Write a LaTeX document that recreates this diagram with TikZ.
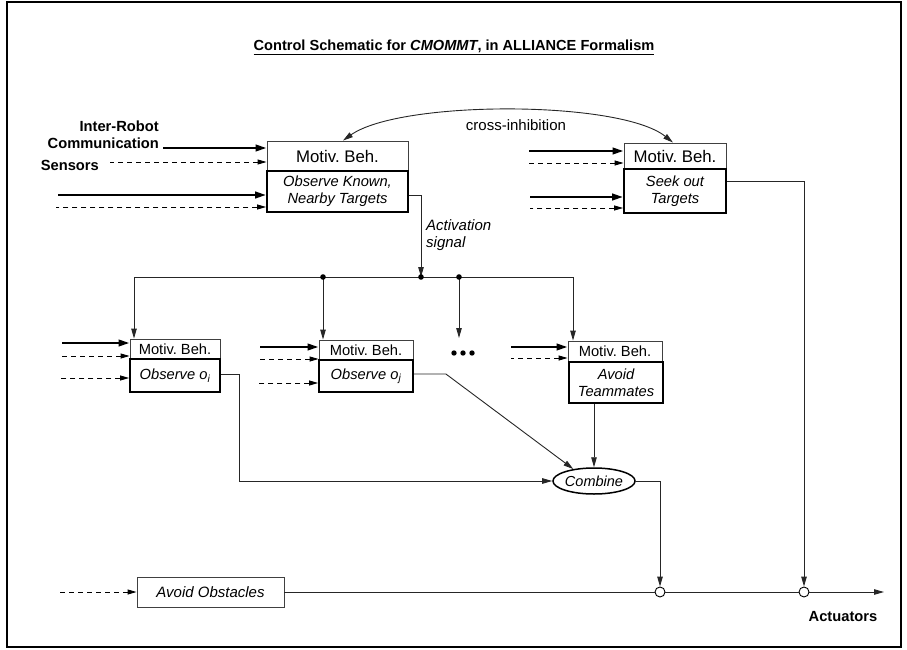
\documentclass[tikz,border=0pt]{standalone}
\usepackage{fontspec}
\setmainfont{Liberation Sans}
\usetikzlibrary{arrows.meta}
\usetikzlibrary{positioning}
\usetikzlibrary{shapes.geometric}
\frenchspacing

\tikzset{
  txt/.style={inner sep=0pt, font=\fontsize{14.7}{17}\selectfont},
  motiv/.style={draw=black!75, line width=0.9pt, inner sep=0pt, font=\fontsize{14.7}{17}\selectfont},
  beh/.style={draw, line width=1.8pt, inner sep=0pt, align=center, font=\fontsize{14.7}{17}\selectfont\itshape},
  wire/.style={line width=0.9pt, draw=black!85},
  tip/.style={-{Triangle[length=10pt,width=5.5pt]}},
  feedthick/.style={{Triangle[length=11pt,width=6.5pt]}-, line width=2.4pt},
  feeddash/.style={{Triangle[length=9pt,width=5pt]}-, line width=0.9pt, dash pattern=on 5pt off 4pt},
  junc/.style={circle, draw, fill=white, line width=0.9pt, minimum size=10pt, inner sep=0pt},
}

\begin{document}
\begin{tikzpicture}[x=1pt, y=-1pt]
      \useasboundingbox (0,0) rectangle (907,650);
      \draw[line width=1.3pt] (7,2) rectangle (901,647);

      \node[txt, font=\fontsize{14.6}{18}\selectfont\bfseries] (title) at (454,47)
        {\underline{Control Schematic for \textit{CMOMMT}, in ALLIANCE Formalism}};

      % top row of behaviours
      \node[motiv, minimum width=141pt, minimum height=30pt, font=\fontsize{16.8}{19}\selectfont] (tlM) at (337.5,156) {Motiv. Beh.};
      \node[beh, minimum width=141pt, minimum height=41pt] (tlB) at (337.5,191.5) {Observe Known,\\Nearby Targets};
      \node[motiv, minimum width=102pt, minimum height=26pt, font=\fontsize{16.8}{19}\selectfont] (trM) at (675,156) {Motiv. Beh.};
      \node[beh, minimum width=102pt, minimum height=44pt] (trB) at (675,191) {Seek out\\Targets};

      \node[txt, font=\fontsize{14.7}{17}\selectfont\bfseries, align=right, anchor=east] (irc) at (159,135) {Inter-Robot\\Communication};
      \node[txt, font=\fontsize{14.7}{17}\selectfont\bfseries, anchor=east] (sens) at (99,165) {Sensors};
      \node[txt, font=\fontsize{15}{17}\selectfont] (cross) at (516,125) {cross-inhibition};
      \node[txt, font=\fontsize{15}{16.5}\selectfont\itshape, align=left, anchor=west] (act) at (426,235) {Activation\\signal};

      % second row of behaviours
      \node[motiv, minimum width=90pt, minimum height=20pt] (oiM) at (175,349) {Motiv. Beh.};
      \node[beh, minimum width=90pt, minimum height=33pt] (oiB) at (175,375.5) {Observe o\textsubscript{i}};
      \node[motiv, minimum width=94pt, minimum height=20pt] (ojM) at (366,350) {Motiv. Beh.};
      \node[beh, minimum width=94pt, minimum height=32pt] (ojB) at (366,376) {Observe o\textsubscript{j}};
      \node[motiv, minimum width=94pt, minimum height=20pt] (atM) at (615,351) {Motiv. Beh.};
      \node[beh, minimum width=94pt, minimum height=41pt] (atB) at (616,382.5) {Avoid\\Teammates};

      \node[ellipse, draw, line width=1.5pt, minimum width=82pt, minimum height=26pt, inner sep=0pt,
            font=\fontsize{14.5}{17}\selectfont\itshape] (cmb) at (594,481) {Combine};

      % bottom row
      \node[motiv, minimum width=147pt, minimum height=30pt, font=\fontsize{15}{17}\selectfont\itshape] (aoB) at (210.5,592) {Avoid Obstacles};
      \node[junc] (c1) at (660,592) {};
      \node[junc] (c2) at (804,592) {};
      \coordinate (out) at (884,592);
      \node[txt, font=\fontsize{14.7}{17}\selectfont\bfseries] (actu) at (843,617) {Actuators};

      % activation bus
      \coordinate (busL) at (134,277);
      \coordinate (j1) at (323,277);
      \coordinate (j2) at (421,277);
      \coordinate (j3) at (459,277);
      \coordinate (busR) at (573,277);
      \coordinate (more) at (459,338);

      \draw[wire] (busL) -- (busR);
      \draw[wire, tip] (tlB.east |- 0,195) -| (j2);
      \draw[wire, tip] (busL) -- (busL |- oiM.north);
      \draw[wire, tip] (j1) -- (j1 |- ojM.north);
      \draw[wire, tip] (j3) -- (more);
      \draw[wire, tip] (busR) -- (busR |- atM.north);
      \fill (j1) circle (2.8pt);
      \fill (j2) circle (2.8pt);
      \fill (j3) circle (2.8pt);
      \fill (454,353) circle (2.7pt);
      \fill (463,353) circle (2.7pt);
      \fill (472,353) circle (2.7pt);

      % cross-inhibition
      \draw[wire, {Triangle[length=10pt,width=5.5pt]}-{Triangle[length=10pt,width=5.5pt]}]
        (tlM.north -| 343,0) .. controls (400,100) and (620,100) .. (trM.north -| 673,0);

      % inputs
      \draw[feedthick] (tlM.west |- 0,148) -- ++(-104,0);
      \draw[feeddash] (tlM.west |- 0,162) -- ++(-157,0);
      \draw[feedthick] (tlB.west |- 0,195) -- ++(-208,0);
      \draw[feeddash] (tlB.west |- 0,207) -- ++(-210,0);
      \draw[feedthick] (trM.west |- 0,151) -- ++(-95,0);
      \draw[feeddash] (trM.west |- 0,163) -- ++(-95,0);
      \draw[feedthick] (trB.west |- 0,197) -- ++(-93,0);
      \draw[feeddash] (trB.west |- 0,208) -- ++(-93,0);

      \draw[feedthick] (oiM.west |- 0,343) -- ++(-68,0);
      \draw[feeddash] (oiM.west |- 0,356) -- ++(-68,0);
      \draw[feeddash] (oiB.west |- 0,378) -- ++(-68,0);
      \draw[feedthick] (ojM.west |- 0,347) -- ++(-59,0);
      \draw[feeddash] (ojM.west |- 0,359) -- ++(-59,0);
      \draw[feeddash] (ojB.west |- 0,383) -- ++(-59,0);
      \draw[feedthick] (atM.west |- 0,347) -- ++(-57,0);
      \draw[feeddash] (atM.west |- 0,358) -- ++(-57,0);
      \draw[feeddash] (aoB.west) -- ++(-77,0);

      % outputs
      \draw[wire, tip] (oiB.east |- 0,374) -- ++(19,0) |- (cmb.west);
      \draw[wire, tip] (ojB.east |- 0,374) -- ++(32,0) -- (cmb.150);
      \draw[wire, tip] (atB.south -| cmb.north) -- (cmb.north);
      \draw[wire, tip] (cmb.east) -| (c1.north);
      \draw[wire, tip] (trB.east |- 0,181) -| (c2.north);
      \draw[wire] (aoB.east) -- (c1.west);
      \draw[wire] (c1.east) -- (c2.west);
      \draw[wire, tip] (c2.east) -- (out);
    \end{tikzpicture}
\end{document}
